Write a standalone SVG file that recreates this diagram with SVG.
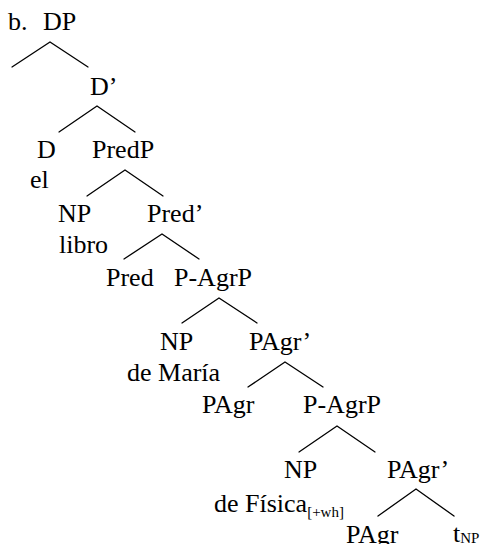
<svg xmlns="http://www.w3.org/2000/svg" width="484" height="544" viewBox="0 0 484 544">
  <style>
    text { font-family: "Liberation Serif", "Times New Roman", serif; font-size: 26px; fill: #000; }
    .sub { font-size: 15px; }
    .edge { stroke: #000; stroke-width: 1.3; fill: none; stroke-linecap: round; }
  </style>
  <rect width="484" height="544" fill="#fff"/>

  <!-- branches -->
  <g id="edges">
    <polyline class="edge" points="12,67 50,42 88,67"/>
    <polyline class="edge" points="59,132 97,106 135,132"/>
    <polyline class="edge" points="87,196 125,170 163,196"/>
    <polyline class="edge" points="124,259 162,234 199,259"/>
    <polyline class="edge" points="182,323 219,298 257,323"/>
    <polyline class="edge" points="248,387 285,362 323,387"/>
    <polyline class="edge" points="299,452 337,426 375,452"/>
    <polyline class="edge" points="378,516 416,489 454,516"/>
  </g>

  <!-- labels -->
  <g id="label-b"><text x="8" y="30">b.</text></g>
  <g id="node-DP"><text x="43" y="30">DP</text></g>
  <g id="node-Dbar"><text x="90" y="95">D’</text></g>
  <g id="node-D"><text x="37" y="158">D</text><text x="30" y="188">el</text></g>
  <g id="node-PredP"><text x="92" y="158">PredP</text></g>
  <g id="node-NP1"><text x="58" y="222">NP</text><text x="59" y="253">libro</text></g>
  <g id="node-Predbar"><text x="147" y="222">Pred’</text></g>
  <g id="node-Pred"><text x="106" y="286">Pred</text></g>
  <g id="node-PAgrP1"><text x="174" y="286">P-AgrP</text></g>
  <g id="node-NP2"><text x="160" y="350">NP</text><text x="127" y="381">de María</text></g>
  <g id="node-PAgrbar1"><text x="249" y="350">PAgr’</text></g>
  <g id="node-PAgr1"><text x="202" y="413">PAgr</text></g>
  <g id="node-PAgrP2"><text x="303" y="413">P-AgrP</text></g>
  <g id="node-NP3"><text x="284" y="478">NP</text><text x="214" y="512">de Física<tspan class="sub" dy="5">[+wh]</tspan></text></g>
  <g id="node-PAgrbar2"><text x="387" y="478">PAgr’</text></g>
  <g id="node-PAgr2"><text x="346" y="543">PAgr</text></g>
  <g id="node-trace"><text x="453" y="542">t<tspan class="sub" dy="1">NP</tspan></text></g>
</svg>
